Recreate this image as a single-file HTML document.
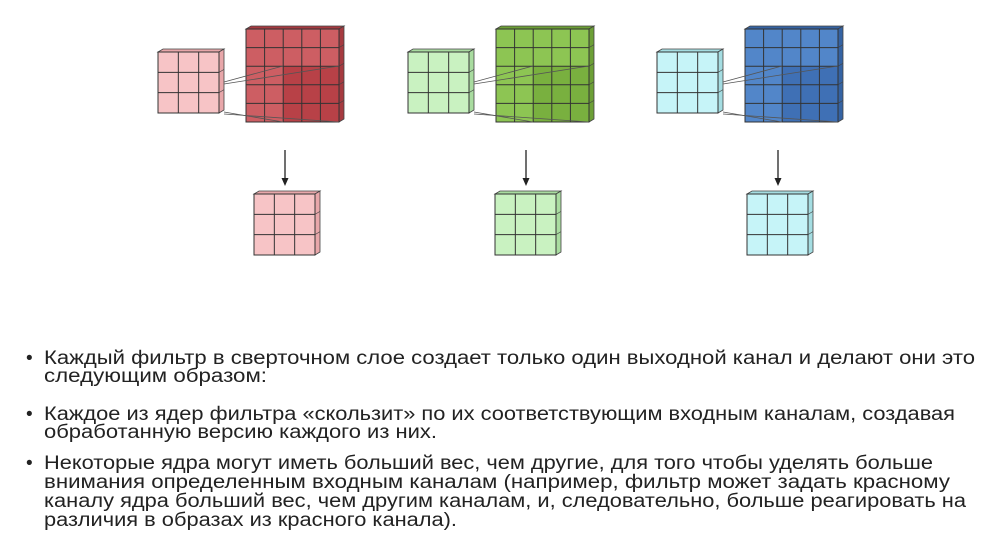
<!DOCTYPE html>
<html><head><meta charset="utf-8"><style>
html,body{margin:0;padding:0;background:#fff}
svg{display:block}
text{font-family:"Liberation Sans","DejaVu Sans",sans-serif;font-size:19px;fill:#222}
</style></head><body>
<svg id="s" width="987" height="556" xmlns="http://www.w3.org/2000/svg">
<g id="g"></g>
<g>
<text x="26" y="364">•</text><text x="44" y="364" textLength="931" lengthAdjust="spacingAndGlyphs">Каждый фильтр в сверточном слое создает только один выходной канал и делают они это</text>
<text x="44" y="382" textLength="223" lengthAdjust="spacingAndGlyphs">следующим образом:</text>
<text x="26" y="420">•</text><text x="44" y="420" textLength="911" lengthAdjust="spacingAndGlyphs">Каждое из ядер фильтра «скользит» по их соответствующим входным каналам, создавая</text>
<text x="44" y="438" textLength="393" lengthAdjust="spacingAndGlyphs">обработанную версию каждого из них.</text>
<text x="26" y="469">•</text><text x="44" y="469" textLength="889" lengthAdjust="spacingAndGlyphs">Некоторые ядра могут иметь больший вес, чем другие, для того чтобы уделять больше</text>
<text x="44" y="488" textLength="906" lengthAdjust="spacingAndGlyphs">внимания определенным входным каналам (например, фильтр может задать красному</text>
<text x="44" y="507" textLength="922" lengthAdjust="spacingAndGlyphs">каналу ядра больший вес, чем другим каналам, и, следовательно, больше реагировать на</text>
<text x="44" y="526" textLength="413" lengthAdjust="spacingAndGlyphs">различия в образах из красного канала).</text>
</g>
</svg>
<script>
var g=document.getElementById('g'),h='';
function cube(x,y,w,n,col,side,dark){
 var c=w/n,d=5;
 h+='<polygon points="'+x+','+y+' '+(x+d)+','+(y-3)+' '+(x+w+d)+','+(y-3)+' '+(x+w)+','+y+'" fill="'+side+'" stroke="#444" stroke-width="0.8"/>';
 h+='<polygon points="'+(x+w)+','+y+' '+(x+w+d)+','+(y-3)+' '+(x+w+d)+','+(y+w-3)+' '+(x+w)+','+(y+w)+'" fill="'+side+'" stroke="#444" stroke-width="0.8"/>';
 h+='<rect x="'+x+'" y="'+y+'" width="'+w+'" height="'+w+'" fill="'+col+'" stroke="#333" stroke-width="1"/>';
 if(dark)h+='<rect x="'+(x+2*c)+'" y="'+(y+2*c)+'" width="'+(3*c)+'" height="'+(3*c)+'" fill="'+dark+'"/>';
 for(var i=1;i<n;i++){h+='<line x1="'+(x+i*c)+'" y1="'+y+'" x2="'+(x+i*c)+'" y2="'+(y+w)+'" stroke="#333" stroke-width="1"/>';
 h+='<line x1="'+x+'" y1="'+(y+i*c)+'" x2="'+(x+w)+'" y2="'+(y+i*c)+'" stroke="#333" stroke-width="1"/>';
 h+='<line x1="'+(x+w)+'" y1="'+(y+i*c)+'" x2="'+(x+w+d)+'" y2="'+(y+i*c-3)+'" stroke="#444" stroke-width="0.6"/>';}
 h+='<rect x="'+x+'" y="'+y+'" width="'+w+'" height="'+w+'" fill="none" stroke="#333" stroke-width="1"/>';
}
var sets=[[158,246,254,'#f7c4c6','#e8a7aa','#cd5e63','#b84147','#a63a40'],
[408,496,495,'#c9f2c1','#a9dca0','#8dc553','#79b03f','#6c9f36'],
[657,745,747,'#c6f4f8','#a5dde2','#5286c9','#3f70b5','#3563a3']];
sets.forEach(function(s){
 cube(s[0],52,61,3,s[3],s[4]);
 cube(s[1],29,93,5,s[5],s[7],s[6]);
 var bx=s[1],kx=s[0]+66;
 h+='<line x1="'+kx+'" y1="82" x2="'+(bx+37)+'" y2="66" stroke="#555" stroke-width="0.8"/>';
 h+='<line x1="'+kx+'" y1="84" x2="'+(bx+93)+'" y2="66" stroke="#555" stroke-width="0.8"/>';
 h+='<line x1="'+kx+'" y1="112" x2="'+(bx+37)+'" y2="122" stroke="#555" stroke-width="0.8"/>';
 h+='<line x1="'+kx+'" y1="114" x2="'+(bx+93)+'" y2="122" stroke="#555" stroke-width="0.8"/>';
 cube(s[2],194,61,3,s[3],s[4]);
 var ax=s[2]+31;
 h+='<line x1="'+ax+'" y1="150" x2="'+ax+'" y2="180" stroke="#222" stroke-width="1.3"/>';
 h+='<polygon points="'+(ax-3.5)+',178 '+(ax+3.5)+',178 '+ax+',186" fill="#222"/>';
});
g.innerHTML=h;
</script>
</body></html>
